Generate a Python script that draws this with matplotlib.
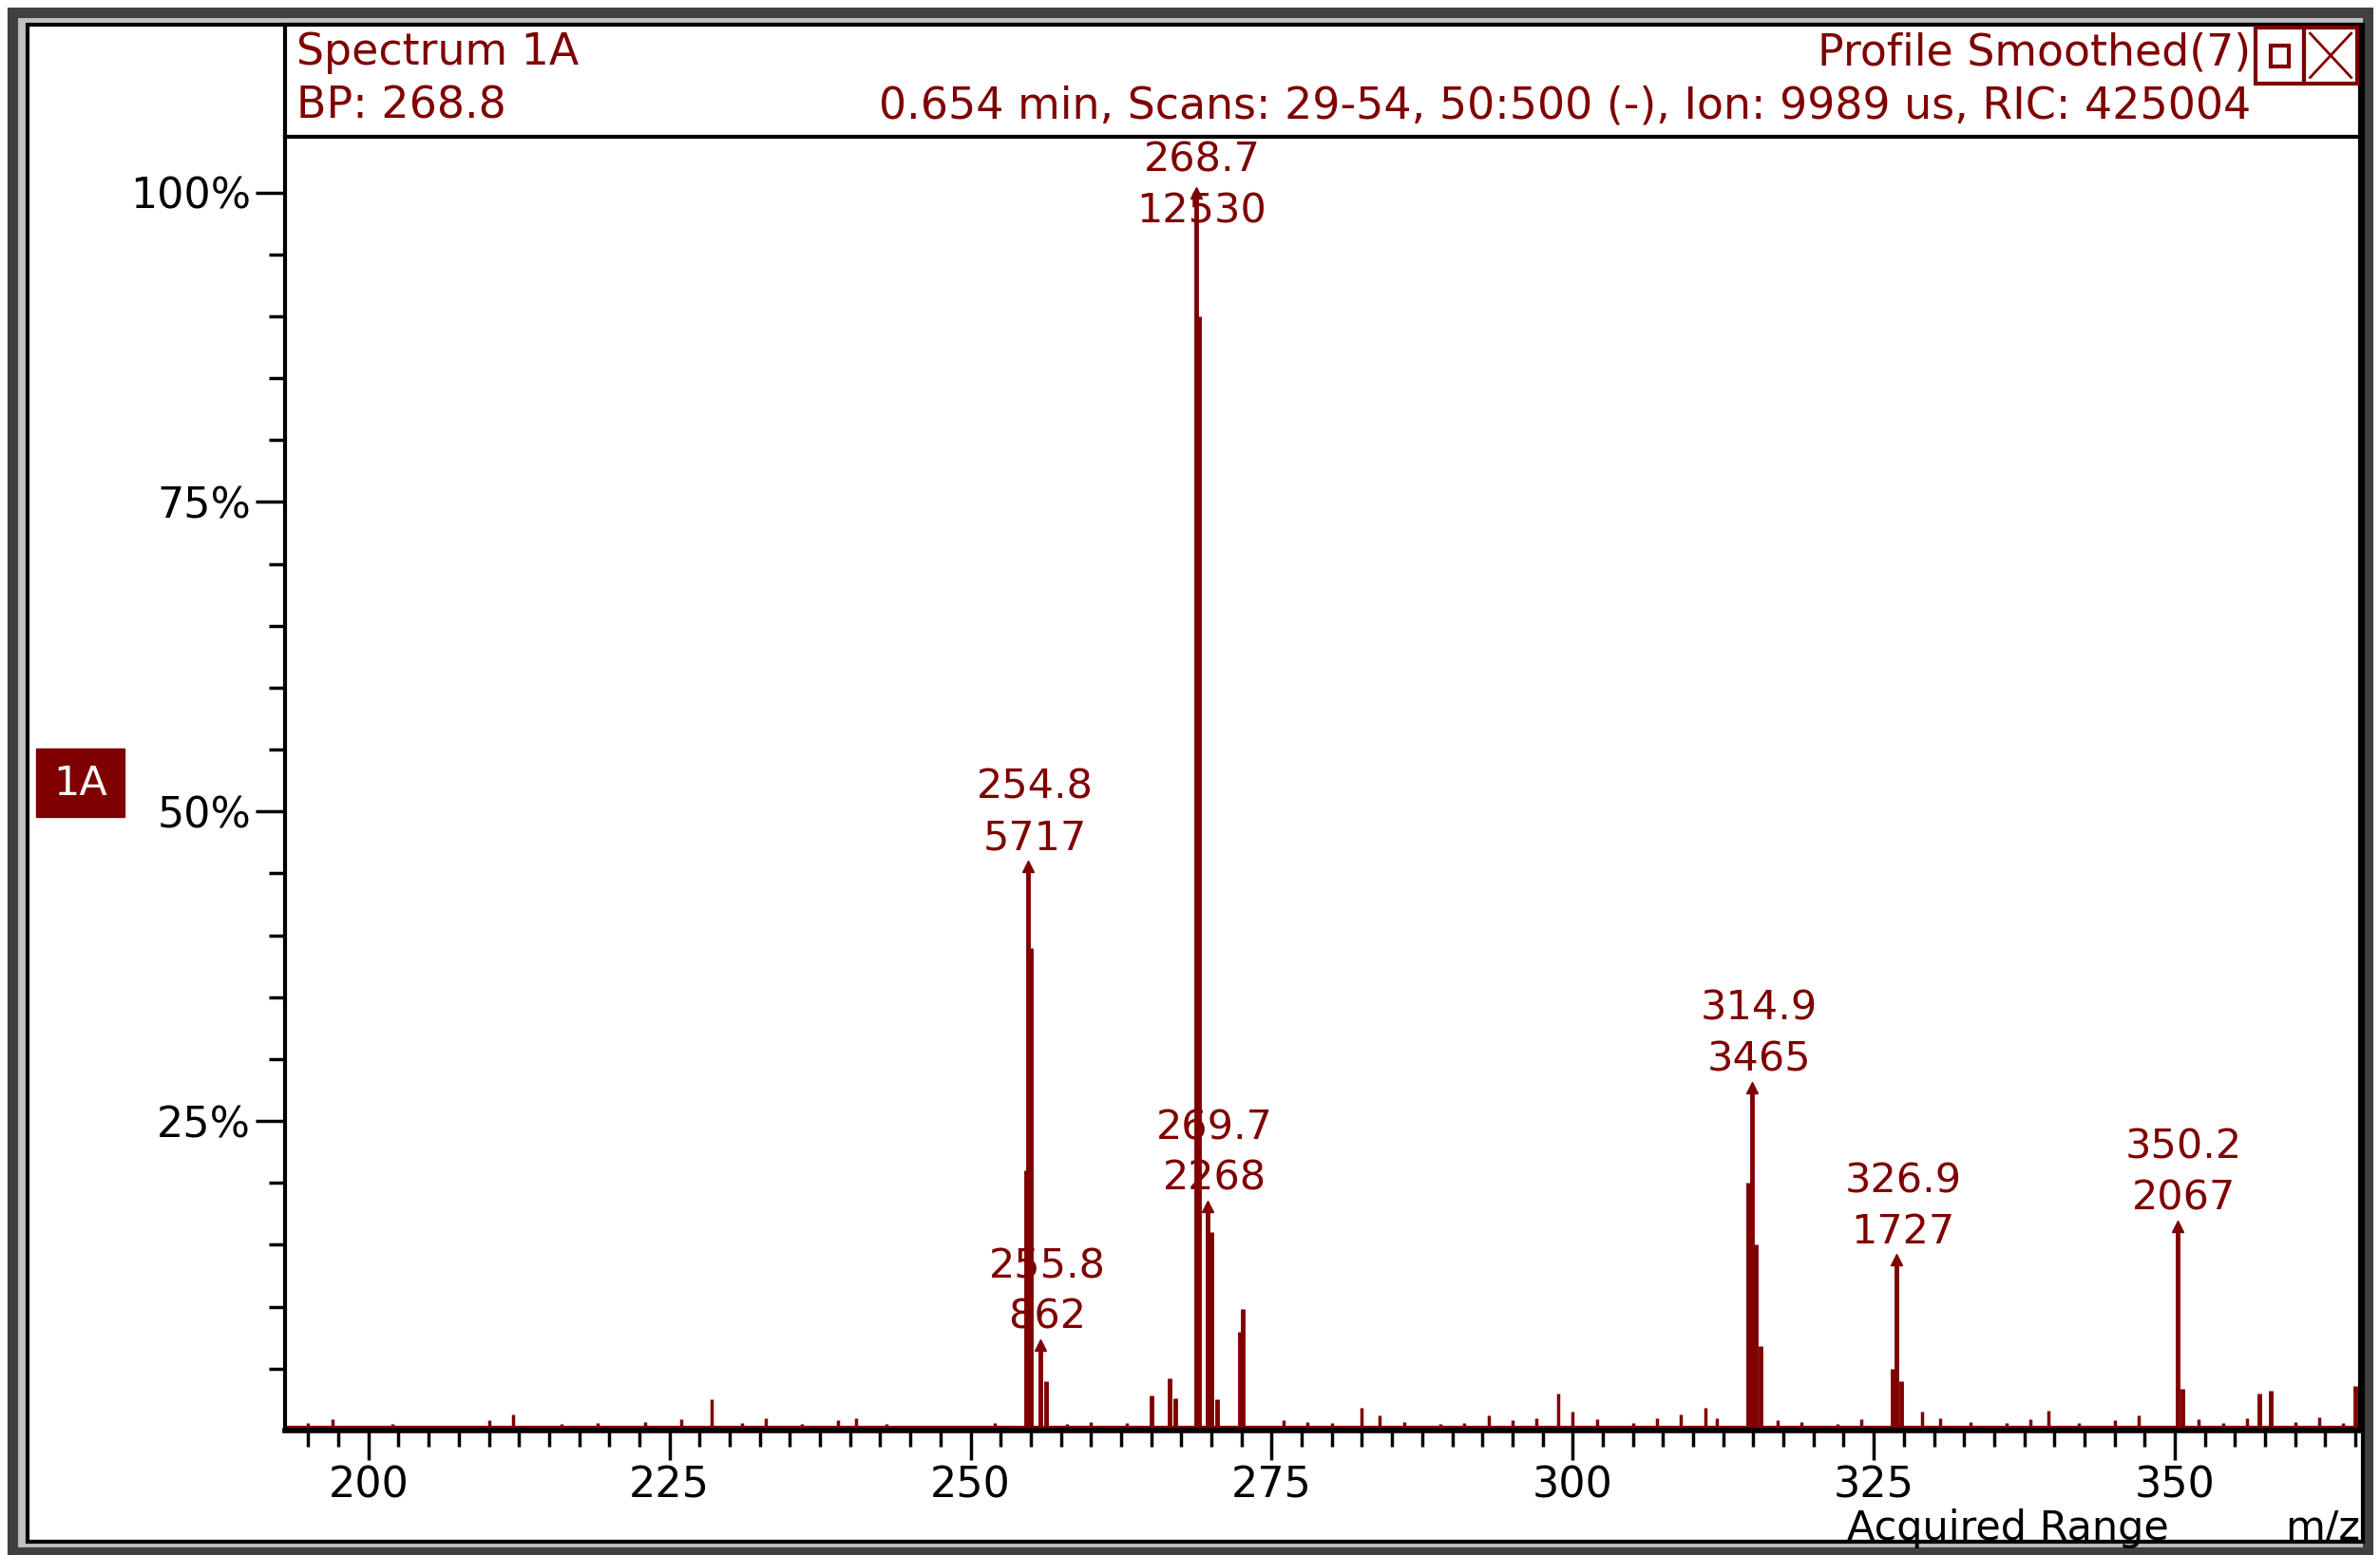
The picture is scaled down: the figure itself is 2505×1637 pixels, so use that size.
import matplotlib
matplotlib.use("Agg")
import matplotlib.pyplot as plt
from matplotlib.patches import Rectangle

RED = "#7f0000"
W, H = 1568.0, 1024.0  # layout reference units

# --- data ---
peak_mz = [254.6, 254.8, 255.0, 255.8, 256.3, 265.0, 266.5, 267.0, 268.7, 269.0, 269.7, 270.0,
           270.5, 272.4, 272.6, 314.6, 314.9, 315.2, 315.6, 326.6, 326.9, 327.3, 350.2, 350.6,
           357.0, 358.0, 365.0]
peak_pct = [21.0, 45.6, 39.0, 6.9, 4.0, 2.8, 4.2, 2.6, 100.0, 90.0, 18.1, 16.0,
            2.5, 8.0, 9.8, 20.0, 27.7, 15.0, 6.8, 5.0, 13.8, 4.0, 16.5, 3.4,
            3.0, 3.2, 3.6]
noise_mz = [195, 197, 202, 206, 210, 212, 216, 219, 223, 226, 228.5, 231, 233, 236, 239, 240.5,
            243, 247, 252, 258, 260, 263, 276, 278, 280, 282.5, 284, 286, 289, 291, 293, 295,
            297, 298.8, 300, 302, 305, 307, 309, 311, 312, 317, 319, 322, 324, 329, 330.5, 333,
            336, 338, 339.5, 342, 345, 347, 352, 354, 356, 360, 362, 364]
noise_pct = [0.6, 0.9, 0.5, 0.4, 0.8, 1.3, 0.5, 0.6, 0.7, 0.9, 2.5, 0.6, 1.0, 0.5, 0.8, 1.0,
             0.5, 0.4, 0.6, 0.5, 0.7, 0.6, 0.8, 0.7, 0.6, 1.8, 1.2, 0.7, 0.5, 0.6, 1.2, 0.8,
             1.0, 3.0, 1.5, 0.9, 0.6, 1.0, 1.3, 1.8, 1.0, 0.8, 0.7, 0.5, 0.9, 1.5, 1.0, 0.7,
             0.6, 0.9, 1.6, 0.6, 0.8, 1.2, 0.9, 0.6, 1.0, 0.7, 1.1, 0.6]
label_mz = [268.7, 254.8, 255.8, 269.7, 314.9, 326.9, 350.2]
label_pct = [100.0, 45.6, 6.9, 18.1, 27.7, 13.8, 16.5]
label_int = [12530, 5717, 862, 2268, 3465, 1727, 2067]

fig = plt.figure(figsize=(25.05, 16.37), dpi=100)
plt.rcParams['font.family'] = ['DejaVu Sans']

def fx(x): return x / W
def fy(y): return 1 - y / H

def rect(x0, y0, x1, y1, **kw):
    r = Rectangle((fx(x0), fy(y1)), fx(x1) - fx(x0), fy(y0) - fy(y1), transform=fig.transFigure, **kw)
    fig.patches.append(r)

rect(8, 8, 1560, 1022, facecolor="#c0c0c0", edgecolor="#404040", linewidth=8, zorder=0)
rect(18, 16, 1557, 1015, facecolor="white", edgecolor="black", linewidth=3, zorder=0.5)
rect(188, 16, 1555, 90, facecolor="white", edgecolor="black", linewidth=3, zorder=1)
fs = 31
hfs = 33
fig.text(fx(195), fy(35), "Spectrum 1A", color=RED, fontsize=hfs, va="center", zorder=3)
fig.text(fx(195), fy(70), "BP: 268.8", color=RED, fontsize=hfs, va="center", zorder=3)
fig.text(fx(1483), fy(35), "Profile Smoothed(7)", color=RED, fontsize=hfs, va="center", ha="right", zorder=3)
fig.text(fx(1483), fy(70), "0.654 min, Scans: 29-54, 50:500 (-), Ion: 9989 us, RIC: 425004",
         color=RED, fontsize=hfs, va="center", ha="right", zorder=3)
rect(1486, 18, 1518, 55, facecolor="white", edgecolor=RED, linewidth=3, zorder=2)
rect(1518, 18, 1553, 55, facecolor="white", edgecolor=RED, linewidth=3, zorder=2)
rect(1496, 30, 1508, 44, facecolor="none", edgecolor=RED, linewidth=3, zorder=3)
for (a, b) in [((1522, 22), (1549, 51)), ((1522, 51), (1549, 22))]:
    fig.lines.append(plt.Line2D([fx(a[0]), fx(b[0])], [fy(a[1]), fy(b[1])], transform=fig.transFigure,
                                color=RED, lw=2, zorder=4))
rect(24, 493, 82, 538, facecolor=RED, edgecolor=RED, zorder=2)
fig.text(fx(53), fy(516), "1A", color="white", fontsize=fs, ha="center", va="center", zorder=3)

ax = fig.add_axes([fx(188), fy(942), fx(1555) - fx(188), fy(90) - fy(942)])
ax.set_zorder(5)
ax.patch.set_alpha(0)
xmin, xmax = 193.1, 365.4
ymax = 104.5
ax.set_xlim(xmin, xmax)
ax.set_ylim(0, ymax)
ax.spines["top"].set_visible(False)
ax.spines["right"].set_linewidth(3)
ax.spines["left"].set_linewidth(3)
ax.spines["bottom"].set_linewidth(4)
ax.vlines(noise_mz, 0, noise_pct, color=RED, lw=2.5)
ax.vlines(peak_mz, 0, peak_pct, color=RED, lw=3.5)
ax.axhline(0.25, color=RED, lw=3)
for m, p, n in zip(label_mz, label_pct, label_int):
    ax.plot([m], [p], marker="^", color=RED, ms=8, clip_on=False)
    if p + 10 > ymax:
        ax.text(m + 0.5, ymax - 0.3, f"{m:.1f}\n{n}", ha="center", va="top", color=RED,
                fontsize=fs, linespacing=1.35)
    else:
        ax.annotate(f"{m:.1f}\n{n}", (m, p), xytext=(5, 6), textcoords="offset points",
                    ha="center", va="bottom", color=RED, fontsize=fs, linespacing=1.35)

ax.set_yticks([25, 50, 75, 100])
ax.set_yticklabels(["25%", "50%", "75%", "100%"])
ax.set_yticks([i * 5 for i in range(1, 21) if i % 5], minor=True)
ax.set_xticks([200, 225, 250, 275, 300, 325, 350])
ax.set_xticks([x * 2.5 for x in range(78, 147)], minor=True)
ax.tick_params(axis="both", which="major", length=22, width=2.5, labelsize=32, pad=4)
ax.tick_params(axis="both", which="minor", length=12, width=2.5)
ax.text(1.0, -0.06, "m/z", transform=ax.transAxes, ha="right", va="top", fontsize=fs)
ax.text(0.83, -0.06, "Acquired Range", transform=ax.transAxes, ha="center", va="top", fontsize=fs)

fig.savefig("out.png", dpi=100)
